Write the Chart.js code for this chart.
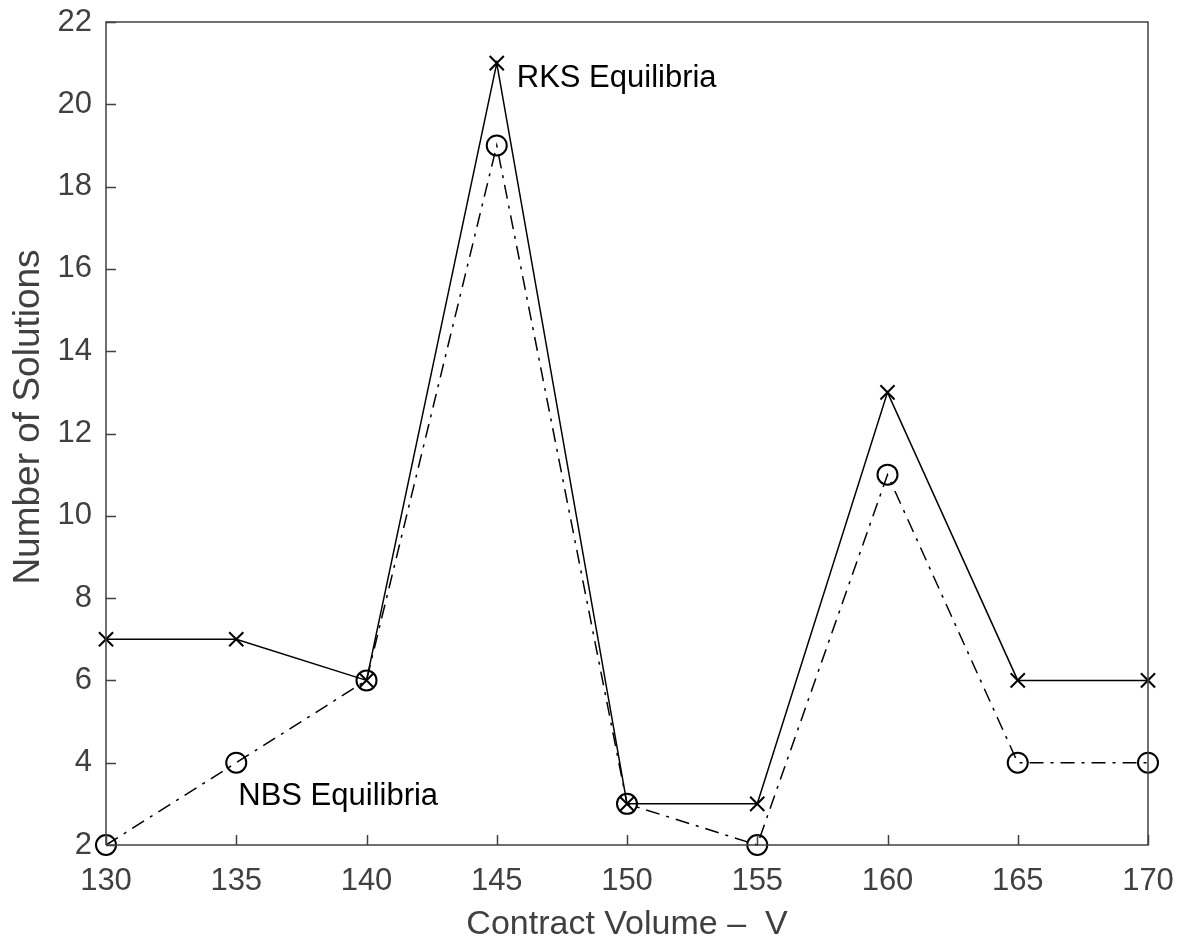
<!DOCTYPE html>
<html>
<head>
<meta charset="utf-8">
<script src="https://cdn.jsdelivr.net/npm/chart.js@4.4.1/dist/chart.umd.min.js"></script>
<style>
  html, body { margin: 0; padding: 0; background: #ffffff; }
  #wrap { width: 1182px; height: 944px; position: relative; }
</style>
</head>
<body>
<div id="wrap"><canvas id="c" width="1182" height="944"></canvas></div>
<script>
const contractVolume = [130, 135, 140, 145, 150, 155, 160, 165, 170];
const rksSolutions = [7, 7, 6, 21, 3, 3, 13, 6, 6];
const nbsSolutions = [2, 4, 6, 19, 3, 2, 11, 4, 4];
const xTicks = [130, 135, 140, 145, 150, 155, 160, 165, 170];
const yTicks = [2, 4, 6, 8, 10, 12, 14, 16, 18, 20, 22];
const xTitle = 'Contract Volume \u2013  V';
const yTitle = 'Number of Solutions';
const rksLabel = 'RKS Equilibria';
const nbsLabel = 'NBS Equilibria';

const FONT = '"Liberation Sans", Arial, Helvetica, sans-serif';
const AXIS_COLOR = '#404040';

const toPoints = (xs, ys) => xs.map((x, i) => ({ x: x, y: ys[i] }));

const decorPlugin = {
  id: 'decor',
  afterDraw(chart) {
    const ctx = chart.ctx;
    const a = chart.chartArea;
    const xs = chart.scales.x, ys = chart.scales.y;
    ctx.save();
    ctx.strokeStyle = AXIS_COLOR;
    ctx.lineWidth = 1.5;
    ctx.beginPath();
    ctx.moveTo(a.left, a.bottom);
    ctx.lineTo(a.left, a.top);
    ctx.lineTo(a.right, a.top);
    ctx.lineTo(a.right, a.bottom);
    ctx.lineTo(a.left, a.bottom);
    ctx.stroke();
    const tl = 10;
    ctx.beginPath();
    xTicks.forEach(v => {
      const px = Math.round(xs.getPixelForValue(v)) + 0.5;
      ctx.moveTo(px, a.bottom);
      ctx.lineTo(px, a.bottom - tl);
    });
    yTicks.forEach(v => {
      const py = Math.round(ys.getPixelForValue(v)) + 0.5;
      ctx.moveTo(a.left, py);
      ctx.lineTo(a.left + tl, py);
    });
    ctx.stroke();

    ctx.fillStyle = '#000000';
    ctx.font = '31px ' + FONT;
    ctx.textAlign = 'left';
    ctx.textBaseline = 'alphabetic';
    const rx = xs.getPixelForValue(contractVolume[3]);
    const ry = ys.getPixelForValue(rksSolutions[3]);
    ctx.fillText(rksLabel, rx + 20, ry + 24);
    const nx = xs.getPixelForValue(contractVolume[1]);
    const ny = ys.getPixelForValue(nbsSolutions[1]);
    ctx.fillText(nbsLabel, nx + 2, ny + 42);

    ctx.fillStyle = AXIS_COLOR;
    ctx.font = '34px ' + FONT;
    ctx.textAlign = 'center';
    ctx.fillText(xTitle, (a.left + a.right) / 2, 934);
    ctx.save();
    ctx.font = '37px ' + FONT;
    ctx.translate(39, 417);
    ctx.rotate(-Math.PI / 2);
    ctx.fillText(yTitle, 0, 0);
    ctx.restore();
    ctx.restore();
  }
};

new Chart(document.getElementById('c'), {
  type: 'line',
  data: {
    datasets: [
      {
        label: rksLabel,
        data: toPoints(contractVolume, rksSolutions),
        borderColor: '#000000',
        borderWidth: 1.5,
        pointStyle: 'crossRot',
        pointRadius: 10,
        pointBorderWidth: 2,
        pointBorderColor: '#000000',
        pointBackgroundColor: 'rgba(0,0,0,0)',
        fill: false,
        clip: false,
        tension: 0
      },
      {
        label: nbsLabel,
        data: toPoints(contractVolume, nbsSolutions),
        borderColor: '#000000',
        borderWidth: 1.5,
        borderDash: [14, 7, 3, 7],
        pointStyle: 'circle',
        pointRadius: 10,
        pointBorderWidth: 2,
        pointBorderColor: '#000000',
        pointBackgroundColor: 'rgba(0,0,0,0)',
        fill: false,
        clip: false,
        tension: 0
      }
    ]
  },
  options: {
    responsive: false,
    animation: false,
    events: [],
    layout: { padding: { top: 22, right: 34, left: 0, bottom: 0 } },
    plugins: { legend: { display: false }, tooltip: { enabled: false } },
    scales: {
      x: {
        type: 'linear',
        min: 130, max: 170,
        afterFit(s) { s.height = 99; s.paddingLeft = 0; s.paddingRight = 0; },
        afterBuildTicks(s) { s.ticks = xTicks.map(v => ({ value: v })); },
        grid: { display: false, drawTicks: false },
        border: { display: false },
        ticks: {
          color: AXIS_COLOR,
          font: { family: FONT, size: 31 },
          padding: 18,
          maxRotation: 0,
          autoSkip: false
        }
      },
      y: {
        type: 'linear',
        min: 2, max: 22,
        afterFit(s) { s.width = 106; s.paddingTop = 0; s.paddingBottom = 0; },
        afterBuildTicks(s) { s.ticks = yTicks.map(v => ({ value: v })); },
        grid: { display: false, drawTicks: false },
        border: { display: false },
        ticks: {
          color: AXIS_COLOR,
          font: { family: FONT, size: 31 },
          padding: 14,
          autoSkip: false
        }
      }
    }
  },
  plugins: [decorPlugin]
});
</script>
</body>
</html>
